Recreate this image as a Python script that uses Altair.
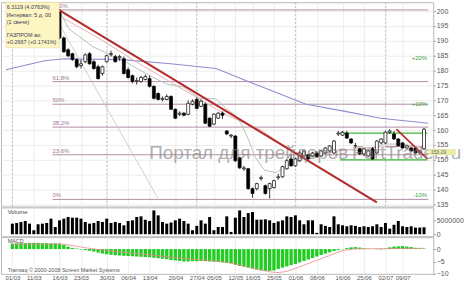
import altair as alt
import pandas as pd

# ---------------- data ----------------
# volume, millions of shares, one per bar (bars 0..96)
volume_m = [3.8, 4.05, 4.4, 4.76, 3.8, 1.43, 3.57, 3.8, 4.05, 5.6, 2.6, 5.0, 5.6, 6.19, 5.95, 5.95,
            5.6, 4.4, 3.8, 4.05, 4.76, 4.4, 5.6, 4.05, 4.4, 4.05, 3.2, 4.76, 5.0, 6.19, 6.43, 5.2,
            4.76, 8.57, 6.79, 4.4, 3.8, 4.2, 5.0, 5.6, 4.76, 3.8, 1.43, 3.0, 5.0, 3.8, 6.19, 1.43,
            2.6, 2.6, 6.43,
            0.83, 5.95, 8.57, 6.19, 7.62, 7.98, 5.24, 5.24, 5.36, 5.0, 4.05, 4.6, 5.0, 6.43, 6.19,
            6.79, 5.0, 3.57, 5.0, 5.0, 0.48, 3.57, 3.0, 2.6, 6.43, 3.57, 3.2, 2.86, 3.2, 3.0, 2.6,
            2.86, 2.6, 2.86, 3.57, 2.6, 4.05, 2.0, 3.4, 4.76, 2.86, 2.6, 2.86, 2.38, 2.38, 2.5]

macd_vals = [2.2, 2.3, 2.4, 2.4, 2.5, 2.5, 2.5, 2.4, 2.4, 2.3, 2.3, 2.2, 1.6, 1.0, 0.5, 0.2,
             -0.2, -0.4, -0.7, -1.0, -1.4, -1.8, -2.1, -2.3, -2.5, -2.6, -2.7, -2.8, -2.9, -3.0,
             -3.1, -3.2, -3.3, -3.5, -3.7, -3.9, -4.1, -4.4, -4.6, -4.8, -5.0, -5.0, -4.9, -4.9,
             -4.8, -4.9, -5.0, -5.1, -5.2, -5.4, -5.6, -5.8, -6.3, -6.8, -7.1, -7.5, -7.9, -8.3,
             -8.6, -8.8, -8.8, -8.6, -8.0, -7.5, -7.0, -6.5, -6.0, -5.4, -4.8, -4.2, -3.6, -3.0,
             -2.4, -1.8, -1.3, -0.8, -0.4, -0.1, 0.4, 0.7, 0.8, 0.6, 0.3, 0.1, 0.0, -0.1, -0.2,
             0.2, 0.7, 1.0, 1.1, 1.2, 1.0, 0.8, 0.5, 0.3, 0.2]

signal_i = [0, 12, 16, 20, 30, 40, 50, 56, 60, 62, 64, 66, 70, 74, 77, 80, 88, 96]
signal_v = [2.0, 2.0, 0.8, -0.2, -2.0, -3.8, -5.2, -7.6, -9.2, -9.5, -9.0, -7.8, -5.2, -2.6,
            -0.6, 0.1, 0.2, 0.3]

# candles for bars 11..96
candle_first = 11
c_open = [200.3, 191.0, 187.0, 185.7, 183.7, 181.7, 183.0, 185.7, 183.0, 181.3, 179.0, 183.0,
          185.5, 184.7, 184.3, 184.0, 180.3, 178.3, 176.3, 176.3, 177.0, 177.3, 174.7, 172.3,
          170.3, 170.3, 171.3, 167.0, 165.3, 165.7, 165.3, 168.7, 170.3, 168.0, 168.7, 164.0,
          162.0, 164.0, 165.7, 159.7, 158.0, 158.0, 150.7, 147.0, 147.0, 140.3, 140.3, 143.7,
          141.3, 140.3, 140.7, 144.0, 144.3, 147.0, 150.3, 148.0, 149.7, 151.3, 151.7, 151.3,
          152.3, 151.3, 152.3, 153.0, 152.3, 158.7, 158.3, 159.0, 157.0, 154.7, 153.7, 152.0,
          151.3, 153.7, 152.3, 155.7, 155.7, 159.3, 158.7, 157.0, 155.7, 154.0, 154.0, 154.0,
          152.3, 153.7]
c_high = [200.6, 191.5, 187.5, 186.0, 184.2, 183.7, 185.8, 186.2, 183.5, 182.0, 181.7, 185.3,
          186.7, 185.3, 185.3, 184.7, 181.0, 178.7, 177.7, 178.3, 178.7, 178.3, 175.0, 172.7,
          171.3, 172.0, 171.7, 167.3, 166.3, 166.0, 170.0, 170.3, 171.0, 170.3, 169.3, 164.3,
          165.7, 166.0, 166.3, 160.0, 158.7, 158.3, 151.0, 148.0, 147.3, 140.7, 142.3, 144.7,
          141.7, 142.3, 143.3, 145.3, 148.0, 150.3, 151.7, 150.7, 153.0, 153.3, 152.0, 152.7,
          153.0, 153.3, 154.3, 155.0, 156.7, 159.7, 159.7, 159.7, 157.3, 155.7, 154.0, 154.0,
          153.3, 154.3, 156.7, 157.3, 159.7, 160.3, 159.7, 157.3, 156.0, 155.0, 154.3, 154.3,
          153.3, 160.7]
c_low = [190.5, 186.0, 184.5, 183.3, 180.8, 180.7, 182.5, 182.0, 180.3, 177.0, 178.3, 182.7,
         184.7, 182.7, 183.3, 178.7, 177.3, 175.7, 175.3, 176.0, 176.7, 174.3, 170.3, 170.0,
         169.7, 170.0, 166.7, 163.7, 164.7, 164.7, 165.0, 168.3, 167.0, 167.7, 162.0, 161.0,
         161.7, 163.7, 163.7, 158.3, 157.3, 149.3, 147.0, 146.3, 140.0, 137.3, 139.7, 143.0,
         138.3, 137.0, 140.3, 143.3, 144.0, 146.7, 147.7, 147.7, 149.3, 151.0, 150.0, 151.0,
         150.7, 151.0, 152.0, 152.7, 152.0, 158.0, 158.0, 157.0, 155.3, 154.0, 151.7, 151.3,
         151.0, 150.0, 152.0, 155.3, 155.3, 158.7, 156.7, 154.3, 153.7, 153.7, 152.7, 152.0,
         152.0, 153.3]
c_close = [191.0, 186.3, 185.0, 183.7, 181.3, 182.3, 185.3, 182.3, 180.7, 177.3, 181.3, 185.0,
           185.7, 183.0, 184.7, 179.0, 177.7, 176.3, 176.7, 177.7, 178.0, 174.7, 170.7, 170.3,
           170.7, 171.3, 167.0, 164.0, 165.7, 165.0, 169.0, 169.7, 167.3, 169.7, 162.3, 161.3,
           165.3, 165.7, 165.0, 158.7, 158.3, 149.7, 147.3, 147.3, 140.3, 138.7, 142.0, 144.0,
           138.7, 142.0, 143.0, 144.3, 147.7, 149.7, 148.0, 150.3, 152.3, 153.0, 150.3, 152.3,
           151.0, 153.0, 154.0, 154.7, 156.3, 159.0, 159.3, 157.3, 155.7, 154.7, 152.0, 153.7,
           153.0, 150.3, 156.3, 157.0, 159.3, 159.7, 157.0, 154.7, 154.0, 154.7, 153.0, 152.3,
           153.0, 160.3]

# moving averages
ma_blue_i = [-1.5, 7.5, 12, 25.6, 36.9, 47.5, 55, 68.5, 77.6, 85.9, 97]
ma_blue_v = [180.3, 183.3, 184.0, 183.7, 182.3, 180.7, 176.3, 168.7, 166.3, 164.0, 162.3]
ma_grey_i = [11.4, 13.2, 18.8, 26.3, 32.4, 36, 39.9, 43.7, 47.5, 49.8, 52.0, 53.4, 55, 56.6,
             58.8, 61.5, 64.7, 68.5, 76.9, 81.4, 86.6, 91.1, 96.5]
ma_grey_v = [199.0, 194.0, 188.0, 183.0, 178.0, 175.5, 174.5, 170.7, 170.5, 167.3, 165.0, 162.0,
             157.0, 151.0, 146.5, 145.7, 148.8, 150.7, 153.7, 153.0, 155.3, 155.3, 153.7]
ma_pink_i = [12, 20, 30, 40, 50, 58, 62, 66, 70, 76, 82, 88, 96.5]
ma_pink_v = [197.5, 191.0, 182.0, 173.5, 165.0, 160.0, 156.0, 152.5, 151.5, 153.0, 154.0, 154.5, 154.5]

# drawn objects
trend_i = [10.93, 85.0]
trend_v = [200.33, 135.67]
trend2_i = [89.55, 96.78]
trend2_v = [160.33, 150.33]
fan_i = [9.1, 33.97]
fan_v = [200.3, 137.0]
fib_levels = [200.4, 176.3, 168.7, 161.0, 151.7, 136.7]
fib_labels = ["100%", "61.8%", "50%", "38.2%", "23.6%", "0%"]
fib_start = 9.35
green_levels = [159.0, 150.0]
green_start = 76.4
pct_levels = [184.2, 168.9, 138.2]
pct_labels = ["+20%", "+10%", "-10%"]

tick_pos = [0, 5, 11, 16, 22, 27, 32, 38, 43, 47, 52, 56, 61, 66, 71, 77, 82, 87, 91]
tick_lab = ["01/03", "11/03", "16/03", "23/03", "30/03", "06/04", "13/04", "20/04", "27/04",
            "05/05", "12/05", "16/05", "25/05", "01/06", "08/06", "16/06", "25/06", "02/07", "09/07"]
month_ticks = [0, 22, 43, 66, 87]
price_ticks = list(range(135, 201, 5))

info_lines = ["6.3119 (4.0763%)", "Интервал: 5 д. 00", "(1 свечи)", "ГАЗПРОМ ао:", "+0.2667 (+0.1741%)"]
info_y = [201.3, 198.7, 196.3, 192.0, 189.7]
last_price_label = "153.29"
last_price = 152.6

wm_text = ["Портал для трейдеров", "FortTrader.ru"]
wm_i = [31.9, 79.2]
wm_p = [150.3, 150.3]

# ---------------- layout constants ----------------
XDOM = [-1.5, 97]
W = 436
FONT = "Liberation Sans"
XS = alt.Scale(domain=XDOM, nice=False, zero=False)

label_expr = "[" + ",".join("'%s'" % t for t in tick_lab) + "][indexof([" + \
             ",".join(str(t) for t in tick_pos) + "], datum.value)]"
AX_X_PLAIN = alt.Axis(values=tick_pos, labels=False, ticks=False, domain=False, grid=True, title=None)
AX_X_LAB = alt.Axis(values=tick_pos, labelExpr=label_expr, grid=True, ticks=False, domain=False,
                    title=None, labelFontSize=6, labelPadding=1, labelColor="#555555",
                    labelFlush=False, labelOverlap=False)


def make_panel(xaxis, yscale, yaxis):
    def X(field="i"):
        return alt.X(field + ":Q", scale=XS, axis=xaxis)

    def Y(field):
        return alt.Y(field + ":Q", scale=yscale, axis=yaxis)
    return X, Y


# ---------------- price panel ----------------
PY = alt.Scale(domain=[134.33, 203], nice=False, zero=False)
AX_PY = alt.Axis(orient="right", values=price_ticks, grid=True, title=None, domain=False)
PX, PYe = make_panel(AX_X_PLAIN, PY, AX_PY)

cd = pd.DataFrame({
    "i": list(range(candle_first, candle_first + len(c_open))),
    "o": c_open, "h": c_high, "l": c_low, "c": c_close,
})
cd["up"] = cd["c"] >= cd["o"]

month_layer = alt.Chart(pd.DataFrame({"i": month_ticks, "p": [150] * len(month_ticks)})).mark_rule(
    color="#b4b4b4", strokeWidth=0.8, strokeDash=[2, 2]).encode(x=PX("i"))

fib_df = pd.DataFrame({"i": [fib_start] * len(fib_levels), "i2": [XDOM[1]] * len(fib_levels),
                       "p": fib_levels, "t": fib_labels})
fib_rule = alt.Chart(fib_df).mark_rule(color="#b48ca6", strokeWidth=1).encode(
    x=PX("i"), x2="i2:Q", y=PYe("p"))
fib_text = alt.Chart(fib_df).mark_text(align="left", baseline="bottom", dy=-1, fontSize=6,
                                       font=FONT, color="#a07a94").encode(
    x=PX("i"), y=PYe("p"), text="t:N")


def line(ix, vals, color, width=1):
    return alt.Chart(pd.DataFrame({"i": ix, "p": vals})).mark_line(
        color=color, strokeWidth=width, clip=True).encode(x=PX("i"), y=PYe("p"))


blue_ma = line(ma_blue_i, ma_blue_v, "#8e8ed0", 1.1)
grey_ma = line(ma_grey_i, ma_grey_v, "#b8c0b8", 1.0)
pink_ma = line(ma_pink_i, ma_pink_v, "#eab0b0", 1.0)
fan = line(fan_i, fan_v, "#c4c4c4", 0.8)

wick = alt.Chart(cd).mark_rule(color="black", strokeWidth=0.8, clip=True).encode(
    x=PX("i"), y=PYe("l"), y2="h:Q")
body = alt.Chart(cd).mark_bar(size=3, stroke="black", strokeWidth=0.7, clip=True).encode(
    x=PX("i"), y=PYe("o"), y2="c:Q",
    fill=alt.condition("datum.up", alt.value("white"), alt.value("black")))

trend = line(trend_i, trend_v, "#b42a2a", 2.0)
trend2 = line(trend2_i, trend2_v, "#b42a2a", 1.6)

green_df = pd.DataFrame({"i": [green_start] * 2, "i2": [96.8] * 2, "p": green_levels})
green = alt.Chart(green_df).mark_rule(color="#3cb43c", strokeWidth=1.3).encode(
    x=PX("i"), x2="i2:Q", y=PYe("p"))

pct_df = pd.DataFrame({"i": [96.7] * 3, "p": pct_levels, "t": pct_labels})
pct = alt.Chart(pct_df).mark_text(align="right", baseline="middle", fontSize=6, font=FONT,
                                  color="#3aa03a").encode(x=PX("i"), y=PYe("p"), text="t:N")

wm_df = pd.DataFrame({"i": wm_i, "p": wm_p, "t": wm_text})
watermark = alt.Chart(wm_df).mark_text(align="left", baseline="alphabetic", fontSize=19,
                                       font=FONT, color="#7c7c7c", opacity=0.6).encode(
    x=PX("i"), y=PYe("p"), text="t:N")

box = alt.Chart(pd.DataFrame({"i": [-1.5], "i2": [10.93], "p": [203], "p2": [187.67]})).mark_rect(
    fill="#fdf5c2", stroke="#e2d79a", strokeWidth=0.5).encode(
    x=PX("i"), x2="i2:Q", y=PYe("p"), y2="p2:Q")
info = alt.Chart(pd.DataFrame({"i": [-1.3] * len(info_lines), "p": info_y, "t": info_lines})).mark_text(
    align="left", baseline="middle", fontSize=5.5, font=FONT, color="#3a3a5a").encode(
    x=PX("i"), y=PYe("p"), text="t:N")

hl = alt.Chart(pd.DataFrame({"i": [97], "i2": [103.4], "p": [last_price - 1.0],
                             "p2": [last_price + 1.0]})).mark_rect(fill="#e9eda6").encode(
    x=PX("i"), x2="i2:Q", y=PYe("p"), y2="p2:Q")
hl_t = alt.Chart(pd.DataFrame({"i": [97.6], "p": [last_price], "t": [last_price_label]})).mark_text(
    align="left", baseline="middle", fontSize=5, font=FONT, color="#666666").encode(
    x=PX("i"), y=PYe("p"), text="t:N")

price = alt.layer(month_layer, fib_rule, fib_text, blue_ma, pink_ma, grey_ma, fan,
                  green, wick, body, trend, trend2, pct, watermark, box, info, hl, hl_t).properties(
    width=W, height=206)

# ---------------- volume panel ----------------
VY = alt.Scale(domain=[-714286, 9642857], nice=False, zero=False)
AX_VY = alt.Axis(orient="right", values=[0, 5000000], format="d", grid=False, title=None, domain=False)
VX, VYe = make_panel(AX_X_PLAIN, VY, AX_VY)

vd = pd.DataFrame({"i": list(range(len(volume_m))), "v": [m * 1e6 for m in volume_m]})
vol_bars = alt.Chart(vd).mark_bar(size=3, color="black").encode(
    x=VX("i"), y=VYe("v"), y2=alt.datum(0))
vol_lab = alt.Chart(pd.DataFrame({"i": [-1.1], "v": [7.9e6], "t": ["Volume"]})).mark_text(
    align="left", baseline="middle", fontSize=6, font=FONT, color="#444444").encode(
    x=VX("i"), y=VYe("v"), text="t:N")
volume = alt.layer(vol_bars, vol_lab).properties(width=W, height=29)

# ---------------- MACD panel ----------------
MY = alt.Scale(domain=[-10, 4.8], nice=False, zero=False)
AX_MY = alt.Axis(orient="right", values=[0, -5, -10], grid=False, title=None, domain=False)
MX, MYe = make_panel(AX_X_LAB, MY, AX_MY)

md = pd.DataFrame({"i": list(range(len(macd_vals))), "m": macd_vals})
macd_bars = alt.Chart(md).mark_bar(size=3.4, color="#22cc22").encode(
    x=MX("i"), y=MYe("m"), y2=alt.datum(0))
sig = alt.Chart(pd.DataFrame({"i": signal_i, "m": signal_v})).mark_line(
    color="#e88a8a", strokeWidth=0.8, clip=True).encode(x=MX("i"), y=MYe("m"))
macd_txt = alt.Chart(pd.DataFrame({"i": [-1.1, -1.1], "m": [3.4, -8.4],
                                   "t": ["MACD", "Transaq © 2000-2008 Screen Market Systems"]})).mark_text(
    align="left", baseline="middle", fontSize=5.5, font=FONT, color="#555555").encode(
    x=MX("i"), y=MYe("m"), text="t:N")
macd = alt.layer(macd_bars, sig, macd_txt).properties(width=W, height=37)

chart = alt.vconcat(price, volume, macd, spacing=1, bounds="flush").properties(
    padding={"left": 0, "top": 0, "right": 0, "bottom": 0},
    background="white",
).configure_view(stroke="#b8b8b8", strokeWidth=1).configure_axis(
    labelFont=FONT, labelFontSize=7, labelColor="#555555", tickColor="#999999", tickSize=2,
    labelPadding=1, gridColor="#e8e8e8", gridWidth=0.8,
)

chart.save("out.html", embed_options={"renderer": "svg", "actions": False})
